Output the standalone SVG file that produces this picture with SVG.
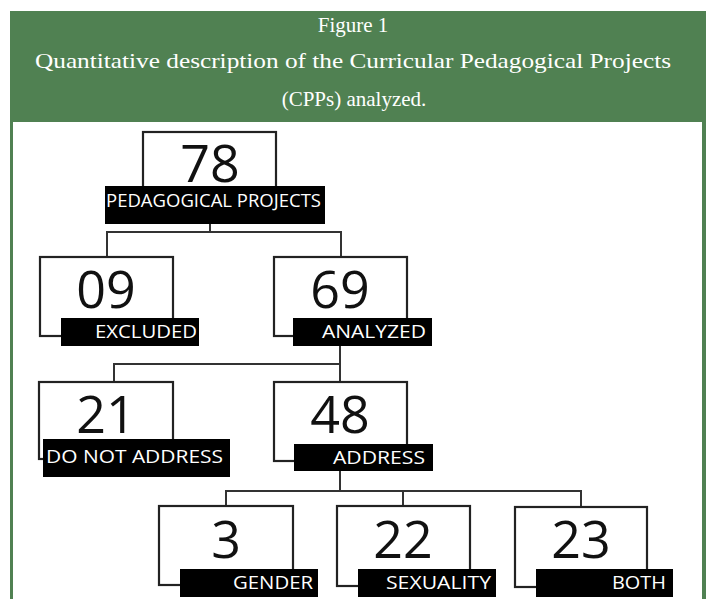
<svg xmlns="http://www.w3.org/2000/svg" width="706" height="599" viewBox="0 0 706 599">
<style>
.hdr{font-family:"Liberation Serif","Times New Roman",serif;fill:#fff;font-size:21px;text-anchor:middle}
.box{fill:#fff;stroke:#222;stroke-width:2.2}
.bar{fill:#000}
.num{font-family:"Open Sans","Noto Sans",sans-serif;font-size:52px;fill:#111;text-anchor:middle}
.lbl{font-family:"Open Sans","Noto Sans",sans-serif;font-size:18px;fill:#fff}
.con{fill:none;stroke:#333;stroke-width:2}
</style>
<rect x="10" y="11" width="696" height="588" fill="#508152"/>
<rect x="13" y="122" width="689" height="477" fill="#fff"/>
<g id="header">
<text class="hdr" x="353" y="32" font-size="22">Figure 1</text>
<text class="hdr" x="353" y="68" font-size="23" textLength="636" lengthAdjust="spacingAndGlyphs">Quantitative description of the Curricular Pedagogical Projects</text>
<text class="hdr" x="354" y="106" font-size="22">(CPPs) analyzed.</text>
</g>
<g id="connectors">
<path class="con" d="M210 224V232M107 257V232H341V257"/>
<path class="con" d="M340 346V364M114 382V364H340V382"/>
<path class="con" d="M340 471V491M226 506V491H581V506M403 491V506"/>
</g>
<g id="n78">
<rect class="box" x="143" y="132" width="133" height="56"/>
<rect class="bar" x="105" y="186" width="220" height="38"/>
<text class="num" x="210" y="182">78</text>
<text class="lbl" x="106" y="207" textLength="215" lengthAdjust="spacingAndGlyphs">PEDAGOGICAL PROJECTS</text>
</g>
<g id="n09">
<rect class="box" x="40" y="257" width="133" height="79"/>
<rect class="bar" x="61" y="318" width="138" height="28"/>
<text class="num" x="106" y="308">09</text>
<text class="lbl" x="95" y="338" textLength="102" lengthAdjust="spacingAndGlyphs">EXCLUDED</text>
</g>
<g id="n69">
<rect class="box" x="274" y="257" width="133" height="79"/>
<rect class="bar" x="293" y="318" width="139" height="28"/>
<text class="num" x="340" y="308">69</text>
<text class="lbl" x="322" y="338" textLength="104" lengthAdjust="spacingAndGlyphs">ANALYZED</text>
</g>
<g id="n21">
<rect class="box" x="39" y="382" width="134" height="77"/>
<rect class="bar" x="43" y="439" width="187" height="38"/>
<text class="num" x="106" y="433">21</text>
<text class="lbl" x="46" y="463" textLength="177" lengthAdjust="spacingAndGlyphs">DO NOT ADDRESS</text>
</g>
<g id="n48">
<rect class="box" x="274" y="382" width="133" height="79"/>
<rect class="bar" x="294" y="444" width="139" height="27"/>
<text class="num" x="340" y="433">48</text>
<text class="lbl" x="333" y="464" textLength="92" lengthAdjust="spacingAndGlyphs">ADDRESS</text>
</g>
<g id="n3">
<rect class="box" x="159" y="506" width="134" height="79"/>
<rect class="bar" x="180" y="569" width="138" height="28"/>
<text class="num" x="226" y="558">3</text>
<text class="lbl" x="233" y="589" textLength="80" lengthAdjust="spacingAndGlyphs">GENDER</text>
</g>
<g id="n22">
<rect class="box" x="337" y="506" width="133" height="80"/>
<rect class="bar" x="358" y="569" width="138" height="28"/>
<text class="num" x="403" y="558">22</text>
<text class="lbl" x="386" y="589" textLength="105" lengthAdjust="spacingAndGlyphs">SEXUALITY</text>
</g>
<g id="n23">
<rect class="box" x="515" y="507" width="132" height="80"/>
<rect class="bar" x="536" y="569" width="137" height="28"/>
<text class="num" x="581" y="558">23</text>
<text class="lbl" x="612" y="589" textLength="54" lengthAdjust="spacingAndGlyphs">BOTH</text>
</g>
</svg>
